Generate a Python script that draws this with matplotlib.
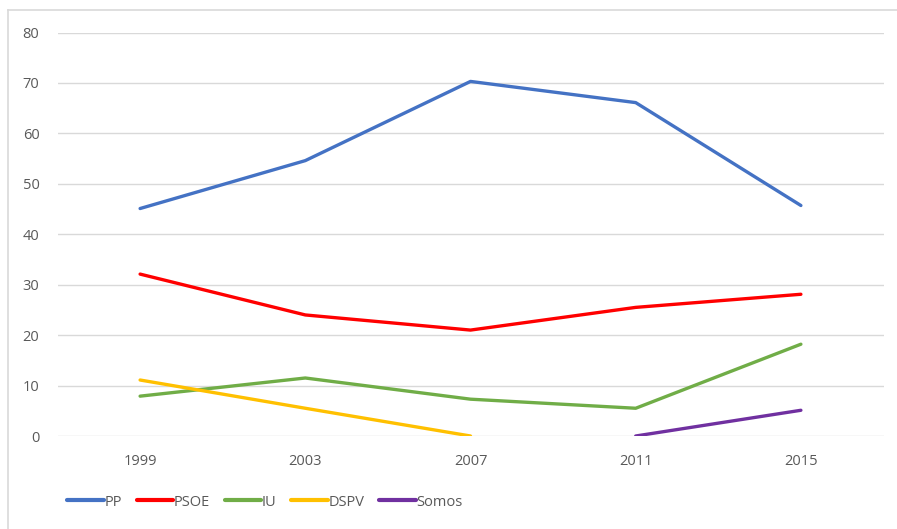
import matplotlib.pyplot as plt
from matplotlib.lines import Line2D

years = ["1999", "2003", "2007", "2011", "2015"]
pp = [45.1, 54.6, 70.3, 66.1, 45.7]
psoe = [32.1, 24.0, 21.0, 25.5, 28.1]
iu = [7.9, 11.5, 7.3, 5.5, 18.2]
dspv = [11.1, 5.5, 0.0, None, None]
somos = [None, None, None, 0.0, 5.1]

series = [
    ("PP", pp, "#4472C4"),
    ("PSOE", psoe, "#FF0000"),
    ("IU", iu, "#70AD47"),
    ("DSPV", dspv, "#FFC000"),
    ("Somos", somos, "#7030A0"),
]

plt.rcParams["font.family"] = ["Open Sans", "DejaVu Sans"]

W, H = 897, 529
fig = plt.figure(figsize=(W / 100, H / 100), dpi=100)
ax = fig.add_axes([57.5 / W, (H - 436) / H, 826 / W, (436 - 32.5) / H])

x = list(range(len(years)))
handles = []
for name, vals, color in series:
    xs = [i for i, v in zip(x, vals) if v is not None]
    ys = [v for v in vals if v is not None]
    ax.plot(xs, ys, color=color, linewidth=2.4, solid_capstyle="round",
            solid_joinstyle="round", label=name)
    handles.append(Line2D([], [], color=color, linewidth=3, solid_capstyle="round", label=name))

ax.set_xlim(-0.5, len(years) - 0.5)
ax.set_ylim(0, 80)
ax.set_yticks(range(0, 81, 10))
ax.set_xticks(x)
ax.set_xticklabels(years)
ax.tick_params(length=0, labelsize=10.5, labelcolor="#595959")
ax.tick_params(axis="y", pad=13)
ax.tick_params(axis="x", pad=13)
ax.grid(True, axis="y", color="#D9D9D9", linewidth=1)
ax.set_axisbelow(True)
for s in ax.spines.values():
    s.set_visible(False)

fig.legend(handles=handles, loc="center", bbox_to_anchor=(265 / W, 1 - 502 / H),
           ncol=5, frameon=False, fontsize=10.5, labelcolor="#595959",
           handlelength=2.5, handletextpad=0.05, columnspacing=1.0)

# chart frame: only top and left edges are visible in the crop
fig.add_artist(Line2D([8 / W, 1], [1 - 10 / H, 1 - 10 / H], transform=fig.transFigure,
                      color="#D9D9D9", linewidth=1.2))
fig.add_artist(Line2D([8 / W, 8 / W], [0, 1 - 10 / H], transform=fig.transFigure,
                      color="#D9D9D9", linewidth=1.2))

fig.savefig("out.png", dpi=100, facecolor="white")
